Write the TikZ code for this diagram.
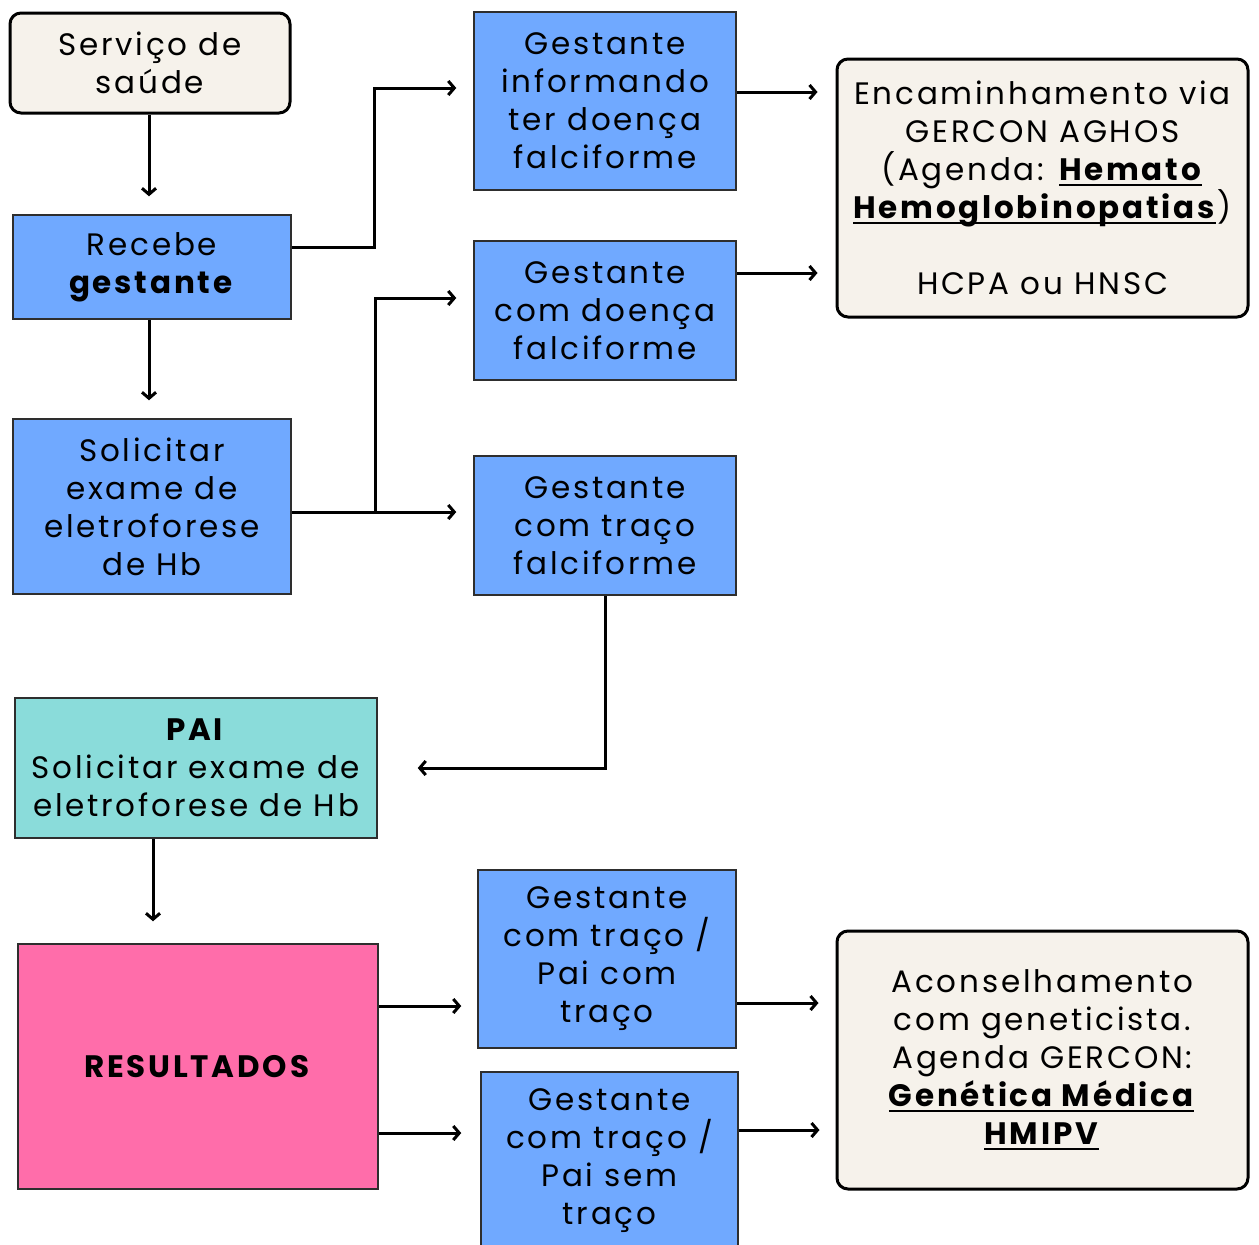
\documentclass[tikz,border=0pt]{standalone}
\usepackage{fontspec}
\setmainfont{Poppins}[LetterSpace=9]
\usetikzlibrary{arrows.meta,calc}
\definecolor{beige}{HTML}{F6F2EB}
\definecolor{bluef}{HTML}{70A9FF}
\definecolor{tealf}{HTML}{8ADCDA}
\definecolor{pinkf}{HTML}{FF6DAA}
\definecolor{edge}{HTML}{2E2E2E}
\newsavebox\ulbox
\newcommand{\ulb}[1]{\sbox\ulbox{\textbf{#1}}\rlap{\rule[-5.5pt]{\dimexpr\wd\ulbox-2pt\relax}{2pt}}\usebox\ulbox}
\tikzset{
  txt/.style={align=center,font=\fontsize{31}{38}\selectfont,inner sep=0pt},
  beigebox/.style={txt,draw=black,line width=3pt,fill=beige,rounded corners=11pt},
  bluebox/.style={txt,draw=edge,line width=1.5pt,fill=bluef},
  tealbox/.style={txt,draw=edge,line width=1.5pt,fill=tealf},
  pinkbox/.style={txt,draw=edge,line width=1.5pt,fill=pinkf},
  conn/.style={line width=3pt,-{Straight Barb[length=6pt,width=14pt]}},
}
\begin{document}
\begin{tikzpicture}[x=1pt,y=-1pt]
\useasboundingbox (0,0) rectangle (1259,1245);
\fill[white] (0,0) rectangle (1259,1245);
\node[beigebox,minimum width=280pt,minimum height=100pt] (serv) at (150,63) {Serviço de\\saúde};
\node[bluebox,minimum width=278pt,minimum height=104pt] (rec) at (152,267) {Recebe\\\textbf{gestante}};
\node[bluebox,minimum width=278pt,minimum height=175pt] (sol) at (152,506.5) {Solicitar\\exame de\\eletroforese\\de Hb};
\node[bluebox,minimum width=262pt,minimum height=178pt] (inf) at (605,101) {Gestante\\informando\\ter doença\\falciforme};
\node[bluebox,minimum width=262pt,minimum height=139pt] (doe) at (605,310.5) {Gestante\\com doença\\falciforme};
\node[bluebox,minimum width=262pt,minimum height=139pt] (tra) at (605,525.5) {Gestante\\com traço\\falciforme};
\node[beigebox,minimum width=411pt,minimum height=258pt] (enc) at (1042.5,188) {Encaminhamento via\\GERCON AGHOS\\(Agenda: \ulb{Hemato}\\\ulb{Hemoglobinopatias})\\[38pt]HCPA ou HNSC};
\node[tealbox,minimum width=362pt,minimum height=140pt] (pai) at (196,768) {\textbf{PAI}\\Solicitar exame de\\eletroforese de Hb};
\node[pinkbox,minimum width=360pt,minimum height=245pt] (res) at (198,1066.5) {\textbf{RESULTADOS}};
\node[bluebox,minimum width=258pt,minimum height=178pt] (pc1) at (607,959) {Gestante\\com traço /\\Pai com\\traço};
\node[bluebox,minimum width=257pt,minimum height=178pt] (pc2) at (609.5,1161) {Gestante\\com traço /\\Pai sem\\traço};
\node[beigebox,minimum width=411pt,minimum height=258pt] (acon) at (1042.5,1060) {Aconselhamento\\com geneticista.\\Agenda GERCON:\\\ulb{Genética Médica}\\\ulb{HMIPV}};
% connectors
\draw[conn,shorten >=18pt] (serv.south -| 149,0) -- (rec.north -| 149,0);
\draw[conn,shorten >=18pt] (rec.south -| 149,0) -- (sol.north -| 149,0);
\draw[conn] ([yshift=20pt]rec.east) -- (374,247) |- ([xshift=-17pt,yshift=13pt]inf.west);
\coordinate (j) at (375,512);
\draw[conn] (sol.east |- j) -- ([xshift=-17pt]tra.west |- j);
\draw[conn] (j) |- ([xshift=-17pt,yshift=12.5pt]doe.west);
\draw[conn,shorten >=18pt] (inf.east |- 0,92) -- (enc.west |- 0,92);
\draw[conn,shorten >=18pt] (doe.east |- 0,273) -- (enc.west |- 0,273);
\draw[conn] (tra.south) |- ([xshift=40pt]pai.east);
\draw[conn,shorten >=22pt] (pai.south -| 153,0) -- (res.north -| 153,0);
\draw[conn,shorten >=16pt] (res.east |- 0,1006) -- (pc1.west |- 0,1006);
\draw[conn,shorten >=19pt] (res.east |- 0,1133) -- (pc2.west |- 0,1133);
\draw[conn,shorten >=17pt] (pc1.east |- 0,1003) -- (acon.west |- 0,1003);
\draw[conn,shorten >=16pt] (pc2.east |- 0,1130) -- (acon.west |- 0,1130);
\end{tikzpicture}
\end{document}
